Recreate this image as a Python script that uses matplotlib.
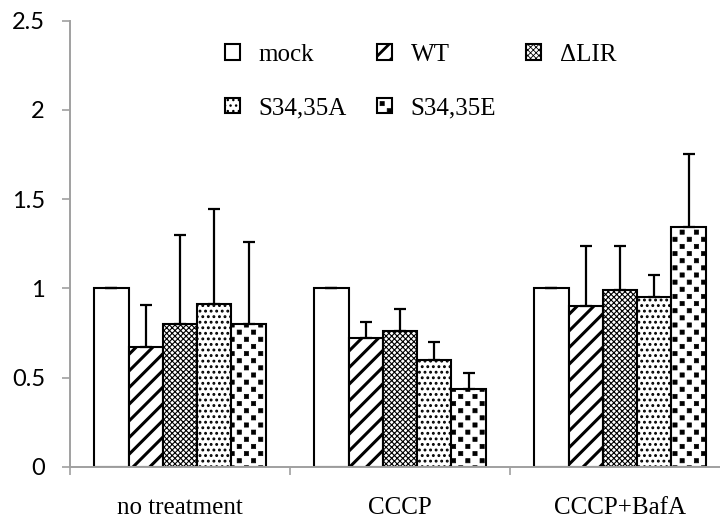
import numpy as np
import matplotlib
matplotlib.use("Agg")
import matplotlib.pyplot as plt
import matplotlib.hatch as mhatch
from matplotlib.path import Path

# valores
categories = ["no treatment", "CCCP", "CCCP+BafA"]
series = ["mock", "WT", "\u0394LIR", "S34,35A", "S34,35E"]
means = {
    "mock":    [1.00, 1.00, 1.00],
    "WT":      [0.67, 0.72, 0.90],
    "\u0394LIR":    [0.80, 0.76, 0.99],
    "S34,35A": [0.91, 0.60, 0.95],
    "S34,35E": [0.80, 0.435, 1.345],
}
errors = {
    "mock":    [0.0, 0.0, 0.0],
    "WT":      [0.235, 0.093, 0.335],
    "\u0394LIR":    [0.50, 0.122, 0.245],
    "S34,35A": [0.535, 0.10, 0.122],
    "S34,35E": [0.46, 0.09, 0.41],
}
yticks = [0, 0.5, 1, 1.5, 2, 2.5]
ytick_labels = ["0", "0.5", "1", "1.5", "2", "2.5"]


# padrão de quadradinhos pretos (tipo Excel) usando o caractere 'O'
class SquareDots(mhatch.HatchPatternBase):
    def __init__(self, hatch, density):
        self.ncols = hatch.count('O') * 7
        self.nrows = self.ncols * 2
        self.num_vertices = self.ncols * self.nrows * 5

    def set_vertices_and_codes(self, vertices, codes):
        dx = 1.0 / self.ncols
        dy = 1.0 / self.nrows
        h = 0.021
        sq = np.array([[-h, -h], [h, -h], [h, h], [-h, h], [-h, -h]])
        sq_codes = [Path.MOVETO, Path.LINETO, Path.LINETO, Path.LINETO, Path.CLOSEPOLY]
        vparts, cparts = [], []
        for r in range(self.nrows):
            shift = dx / 2 if r % 2 else 0.0
            for c in range(self.ncols):
                vparts.append(sq + [c * dx + shift + dx / 4, r * dy + dy / 2])
                cparts.append(sq_codes)
        np.concatenate(vparts, out=vertices)
        np.concatenate(cparts, out=codes)


mhatch._hatch_types = [t for t in mhatch._hatch_types
                       if t is not mhatch.LargeCircles] + [SquareDots]

hatches = {"mock": "", "WT": "//", "\u0394LIR": "xxxxxx", "S34,35A": "...", "S34,35E": "O"}
hatch_lw = {"mock": 1.0, "WT": 2.2, "\u0394LIR": 0.8, "S34,35A": 1.3, "S34,35E": 0.5}
legend_lw = {"mock": 1.0, "WT": 2.0, "\u0394LIR": 0.6, "S34,35A": 1.0, "S34,35E": 0.5}

serif = ["Liberation Serif", "DejaVu Serif"]
fig = plt.figure(figsize=(7.2, 5.23), dpi=100)
ax = fig.add_axes([70 / 720, 1 - 466.7 / 523, 660 / 720, (466.7 - 20.7) / 523])

x = np.arange(len(categories))
width = 0.156
containers = {}
for i, s in enumerate(series):
    plt.rcParams["hatch.linewidth"] = hatch_lw[s]
    pos = x + (i - 2) * width
    bars = ax.bar(pos, means[s], width, color="white", edgecolor="black",
                  linewidth=1.5, hatch=hatches[s], label=s, zorder=2)
    for b in bars:
        try:
            b.set_hatch_linewidth(hatch_lw[s])
        except AttributeError:
            pass
    ax.errorbar(pos, means[s], yerr=[np.zeros(3), errors[s]], fmt="none",
                ecolor="black", elinewidth=1.6, capsize=4.5, capthick=1.6, zorder=3)
    containers[s] = bars

ax.set_xlim(-0.5, 2.5)
ax.set_ylim(0, 2.5)
ax.set_yticks(yticks)
ax.set_yticklabels(ytick_labels, family=["Lato", "DejaVu Sans"], fontsize=17)
ax.set_xticks(x)
ax.set_xticklabels(categories, family=serif, fontsize=18)
ax.set_xticks([-0.5, 0.5, 1.5, 2.5], minor=True)
ax.tick_params(axis="x", which="major", length=0, pad=22)
ax.tick_params(axis="x", which="minor", length=6, color="#a0a0a0", width=1.2)
ax.tick_params(axis="y", length=6, color="#a0a0a0", width=1.2, pad=12)

for side in ["top", "right"]:
    ax.spines[side].set_visible(False)
for side in ["left", "bottom"]:
    ax.spines[side].set_color("#a0a0a0")
    ax.spines[side].set_linewidth(1.4)

order = ["mock", "S34,35A", "WT", "S34,35E", "\u0394LIR"]
leg = ax.legend([containers[s] for s in order], order, ncol=3, frameon=False,
                prop={"family": serif, "size": 18},
                loc="upper left", bbox_to_anchor=(225 / 720, 1 - 44 / 523),
                bbox_transform=fig.transFigure, borderpad=0, borderaxespad=0,
                handlelength=0.6, handleheight=0.6, handletextpad=0.75,
                columnspacing=1.2, labelspacing=1.25)
for h, s in zip(leg.legend_handles, order):
    try:
        h.set_hatch_linewidth(legend_lw[s])
    except AttributeError:
        pass

plt.savefig("out.png", dpi=100)
